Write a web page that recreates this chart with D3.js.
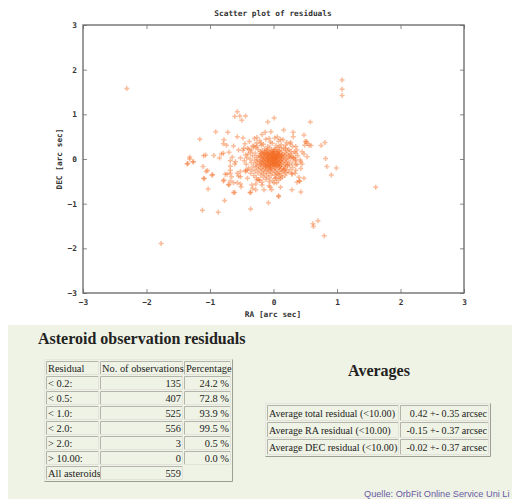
<!DOCTYPE html>
<html>
<head>
<meta charset="utf-8">
<script src="https://cdn.jsdelivr.net/npm/d3@7"></script>
<style>
body { margin: 0; background: #fff; }
svg { display: block; }
</style>
</head>
<body>
<svg id="chart" width="512" height="499"></svg>
<script>
// residuals, [RA, DEC] in arc sec
var outlierPoints = [
  [-2.31,1.58],
  [-0.57,1.06],[-0.61,0.95],[-0.53,0.96],[-0.50,0.87],[-0.44,0.96],
  [-0.91,0.61],[-0.72,0.60],[-1.16,0.44],[-0.78,0.43],[-0.57,0.50],[-0.48,0.47],
  [1.08,1.77],[1.08,1.56],[1.08,1.42],
  [0.01,0.92],[-0.09,0.83],[0.58,0.83],[0.16,0.65],[0.31,0.60],[-0.04,0.61],[0.81,0.37],[0.75,0.30],
  [0.48,0.54],[0.82,0.01],[0.31,0.50],[0.52,0.39],[0.59,0.30],
  [0.84,-0.17],[0.99,-0.20],[0.91,-0.36],[1.61,-0.63],[0.62,-1.45],[0.63,-1.51],[0.70,-1.38],[0.80,-1.72],
  [-0.08,-0.98],[0.08,-0.83],[0.08,-0.84],[0.29,-0.69],[0.43,-0.74],[0.41,-0.49],[0.41,-0.50],[0.48,-0.43],
  [0.37,-0.52],[0.43,-0.21],[0.45,-0.11],[0.29,-0.34],[0.11,-0.43],[0.11,-0.63],[0.01,-0.54],
  [-0.07,-0.60],[-0.15,-0.69],[-0.05,-0.63],
  [-1.77,-1.89],[-1.12,-1.15],[-0.87,-1.19],[-0.77,-0.93],[-0.36,-1.12],
  [-1.36,-0.11],[-1.35,-0.10],[-1.32,0.00],[-1.26,-0.06],[-1.10,0.07],[-1.11,-0.17],[-1.04,-0.26],
  [-1.09,-0.44],[-0.96,-0.35],[-1.03,-0.67],[-0.94,0.08],[-0.82,0.11],[-0.68,-0.04],[-0.79,-0.49],
  [-0.71,-0.57],[-0.63,-0.75],[-0.57,-0.53],[-0.51,-0.62],[-0.36,-0.75],[-0.33,-0.66],[-0.68,-0.25],
  [-0.73,-0.34],[-0.66,-0.40],[-0.52,-0.40],[-0.41,-0.25],[-0.57,-0.32],
  [-0.79,0.34],[-0.74,0.31],[-0.63,0.29],[-1.07,0.09],[-0.85,0.02],[-0.79,0.13],[-0.70,0.15],
  [-0.55,0.20],[-0.47,0.24],[-0.39,0.22],[-0.35,0.20],[-0.31,0.28],[-0.26,0.29],[-0.20,0.36],
  [-0.65,0.04],[-0.60,-0.06],[-0.52,0.02],[-0.44,0.09],[-1.32,0.04],[-1.27,-0.06],
  [-0.13,0.60],[-0.18,0.55],[0.06,0.49],[0.11,0.44],[-0.07,0.46],[-0.26,0.48],[0.27,0.37],[0.50,0.39],
  [0.56,0.31],[0.49,0.31],[0.19,0.24],[0.35,0.28],[0.37,0.20],[0.45,0.16],[0.48,0.11],[0.24,0.09],
  [0.29,0.04],[0.35,-0.01],[0.53,0.05],
  [-1.06,-0.28],[-1.10,-0.43],[-0.97,-0.36],[-0.76,-0.34],[-0.78,-0.47],[-0.68,-0.32],[-0.68,-0.49],
  [-0.70,-0.58],[-0.63,-0.53],[-0.61,-0.75],[-0.52,-0.56],[-0.55,-0.38],[-0.37,-0.75],[-0.34,-0.58],
  [-0.28,-0.69],[-0.26,-0.47],[-0.52,-0.28],[-0.41,-0.43],[-0.44,-0.25],[-0.68,-0.16],[-0.61,-0.11],
  [0.29,-0.32],[0.40,-0.41],[0.18,-0.23],[0.22,-0.13],[0.35,-0.13],[0.34,-0.32],[-0.03,-0.69],
  [-0.28,-0.56],[-0.23,-0.47],[-0.18,-0.58],[0.08,-0.34],[0.03,-0.43],
  [0.53,0.35],[0.35,0.13],[0.32,0.02],[0.43,-0.06],[0.35,-0.25]
];

// the dense core around the origin, estimated
var corePoints = [
  [-0.30,0.46],[-0.12,0.44],[0.02,0.47],[0.15,0.43],
  [-0.38,0.39],[-0.22,0.41],[-0.05,0.38],[0.08,0.40],[0.21,0.37],
  [-0.45,0.34],[-0.27,0.36],[-0.16,0.33],[-0.02,0.35],[0.12,0.32],[0.26,0.34],
  [-0.33,0.29],[-0.19,0.31],[-0.09,0.28],[0.04,0.30],[0.10,0.27],[0.19,0.31],[0.30,0.28],
  [-0.41,0.24],[-0.28,0.26],[-0.14,0.23],[-0.06,0.25],[0.01,0.22],[0.07,0.26],[0.16,0.24],[0.24,0.21],
  [-0.48,0.19],[-0.24,0.21],[-0.18,0.18],[-0.11,0.20],[-0.03,0.19],[0.03,0.21],[0.09,0.18],[0.13,0.20],
  [0.22,0.19],[0.28,0.17],
  [-0.36,0.15],[-0.21,0.16],[-0.15,0.14],[-0.08,0.17],[-0.01,0.15],[0.05,0.16],[0.11,0.14],[0.18,0.15],
  [0.33,0.16],
  [-0.40,0.11],[-0.29,0.13],[-0.19,0.11],[-0.13,0.12],[-0.07,0.10],[-0.02,0.13],[0.02,0.11],[0.07,0.12],
  [0.14,0.10],[0.20,0.12],[0.27,0.11],
  [-0.33,0.07],[-0.23,0.08],[-0.16,0.06],[-0.10,0.09],[-0.05,0.07],[0.00,0.08],[0.04,0.06],[0.09,0.09],
  [0.12,0.07],[0.17,0.08],[0.25,0.06],[0.38,0.07],
  [-0.42,0.03],[-0.27,0.04],[-0.20,0.05],[-0.14,0.03],[-0.09,0.04],[-0.04,0.02],[-0.01,0.05],[0.03,0.03],
  [0.06,0.04],[0.10,0.02],[0.15,0.05],[0.21,0.03],[0.31,0.04],
  [-0.37,0.00],[-0.25,-0.01],[-0.18,0.01],[-0.12,0.00],[-0.08,-0.01],[-0.03,0.01],[0.01,-0.01],[0.05,0.00],
  [0.08,0.01],[0.13,-0.01],[0.19,0.00],[0.26,0.01],[0.42,-0.02],
  [-0.46,-0.04],[-0.30,-0.03],[-0.22,-0.05],[-0.15,-0.04],[-0.10,-0.03],[-0.06,-0.05],[-0.02,-0.04],
  [0.02,-0.03],[0.06,-0.05],[0.11,-0.04],[0.16,-0.03],[0.23,-0.05],[0.34,-0.04],
  [-0.35,-0.08],[-0.26,-0.07],[-0.19,-0.09],[-0.13,-0.08],[-0.07,-0.07],[-0.03,-0.09],[0.00,-0.08],
  [0.04,-0.07],[0.09,-0.09],[0.14,-0.08],[0.20,-0.07],[0.29,-0.09],
  [-0.43,-0.12],[-0.28,-0.11],[-0.21,-0.13],[-0.16,-0.12],[-0.11,-0.11],[-0.05,-0.13],[-0.01,-0.12],
  [0.03,-0.11],[0.07,-0.13],[0.12,-0.12],[0.18,-0.11],[0.25,-0.13],[0.37,-0.12],
  [-0.32,-0.16],[-0.24,-0.15],[-0.17,-0.17],[-0.12,-0.16],[-0.08,-0.15],[-0.03,-0.17],[0.01,-0.16],
  [0.06,-0.15],[0.10,-0.17],[0.16,-0.16],[0.22,-0.15],
  [-0.39,-0.20],[-0.27,-0.19],[-0.20,-0.21],[-0.14,-0.20],[-0.09,-0.19],[-0.04,-0.21],[0.02,-0.20],
  [0.08,-0.19],[0.13,-0.21],[0.19,-0.20],[0.30,-0.19],
  [-0.34,-0.24],[-0.23,-0.23],[-0.16,-0.25],[-0.10,-0.24],[-0.05,-0.23],[0.00,-0.25],[0.05,-0.24],
  [0.11,-0.23],[0.17,-0.25],[0.26,-0.24],
  [-0.44,-0.28],[-0.29,-0.27],[-0.19,-0.29],[-0.12,-0.28],[-0.06,-0.27],[0.03,-0.29],[0.09,-0.28],
  [0.15,-0.27],[0.23,-0.29],
  [-0.36,-0.32],[-0.25,-0.31],[-0.15,-0.33],[-0.08,-0.32],[-0.02,-0.31],[0.06,-0.33],[0.13,-0.32],[0.20,-0.31],
  [-0.31,-0.37],[-0.20,-0.36],[-0.11,-0.38],[-0.04,-0.37],[0.02,-0.36],[0.10,-0.38],[0.18,-0.37],
  [-0.27,-0.42],[-0.16,-0.41],[-0.07,-0.43],[0.04,-0.42],[0.14,-0.41],
  [-0.22,-0.47],[-0.12,-0.46],[-0.01,-0.48],[0.08,-0.47],
  [-0.18,-0.52],[-0.06,-0.51],[0.05,-0.53],
  [-0.21,0.07],[-0.17,-0.02],[-0.13,0.15],[-0.11,0.05],[-0.09,-0.09],[-0.07,0.10],[-0.06,-0.14],[-0.04,0.03],
  [-0.02,-0.05],[0.00,0.13],[0.02,-0.10],[0.04,0.06],[0.06,-0.02],[0.08,0.17],[0.10,-0.15],[0.12,0.02],
  [-0.19,-0.11],[-0.15,0.11],[-0.12,-0.17],[-0.10,0.19],[-0.08,0.01],[-0.05,-0.19],[-0.03,0.16],[-0.01,0.00],
  [0.01,0.09],[0.03,-0.16],[0.05,0.12],[0.07,-0.07],[0.09,0.05],[0.11,-0.04],[-0.16,0.03],[-0.14,-0.06],
  [-0.10,-0.02],[-0.06,0.06],[-0.04,-0.08],[-0.02,0.11],[0.00,-0.13],[0.02,0.04],[0.04,-0.01],[0.06,0.08],
  [-0.18,0.14],[-0.13,-0.13],[-0.09,0.12],[-0.07,-0.04],[-0.03,0.07],[-0.01,-0.11],[0.01,0.18],[0.03,0.01],
  [0.05,-0.12],[0.08,0.10],[-0.20,-0.05],[-0.11,0.09],[-0.08,-0.12],[-0.05,0.14],[-0.02,-0.02],[0.00,0.05],
  [0.03,-0.07],[0.06,0.15],[0.09,-0.10],[0.13,0.08]
];

var tickValues = [-3, -2, -1, 0, 1, 2, 3];

var tableHeader = ["Residual", "No. of observations", "Percentage"];
var residualLabels = ["< 0.2:", "< 0.5:", "< 1.0:", "< 2.0:", "> 2.0:", "> 10.00:", "All asteroids"];
var obsCounts = [135, 407, 525, 556, 3, 0, 559];
var percentages = ["24.2 %", "72.8 %", "93.9 %", "99.5 %", "0.5 %", "0.0 %", null];

var averageLabels = ["Average total residual (<10.00)", "Average RA residual (<10.00)", "Average DEC residual (<10.00)"];
var averageValues = ["0.42 +- 0.35 arcsec", "-0.15 +- 0.37 arcsec", "-0.02 +- 0.37 arcsec"];

var svg = d3.select("#chart");
var monoFont = "'DejaVu Sans Mono', monospace";
var serifFont = "'Liberation Serif', 'Times New Roman', serif";

// ---------- scatter plot ----------
var plot = {left: 83, right: 464, top: 25, bottom: 293};

var x = d3.scaleLinear().domain([-3, 3]).range([plot.left, plot.right]);
var y = d3.scaleLinear().domain([-3, 3]).range([plot.bottom, plot.top]);
var intFormat = d3.format("d");

function styleAxis(g) {
    g.select(".domain").remove();
    g.selectAll(".tick line").attr("stroke", "#8a8a8a").attr("stroke-width", 1);
    g.selectAll(".tick text")
        .attr("fill", "#333")
        .style("font-family", monoFont)
        .style("font-weight", "bold")
        .style("font-size", "7.8px");
}

svg.append("g")
    .attr("transform", "translate(0," + plot.bottom + ")")
    .call(d3.axisBottom(x).tickValues(tickValues).tickFormat(intFormat).tickSize(-4).tickSizeOuter(0).tickPadding(6))
    .call(styleAxis);
svg.append("g")
    .attr("transform", "translate(0," + plot.top + ")")
    .call(d3.axisTop(x).tickValues(tickValues).tickSize(-4).tickSizeOuter(0).tickFormat(""))
    .call(styleAxis);
svg.append("g")
    .attr("transform", "translate(" + plot.left + ",0)")
    .call(d3.axisLeft(y).tickValues(tickValues).tickFormat(intFormat).tickSize(-4).tickSizeOuter(0).tickPadding(6))
    .call(styleAxis);
svg.append("g")
    .attr("transform", "translate(" + plot.right + ",0)")
    .call(d3.axisRight(y).tickValues(tickValues).tickSize(-4).tickSizeOuter(0).tickFormat(""))
    .call(styleAxis);

// frame
svg.append("rect")
    .attr("x", plot.left).attr("y", plot.top)
    .attr("width", plot.right - plot.left).attr("height", plot.bottom - plot.top)
    .attr("fill", "none").attr("stroke", "#666").attr("stroke-width", 1.3);

// the points, as plus signs
var allPoints = outlierPoints.concat(corePoints);
svg.append("g").selectAll("path")
    .data(allPoints)
    .join("path")
    .attr("transform", d => "translate(" + x(d[0]) + "," + y(d[1]) + ")")
    .attr("d", "M-2.5,0H2.5M0,-2.5V2.5")
    .attr("stroke", "#f46a22")
    .attr("stroke-opacity", 0.45)
    .attr("stroke-width", 1.5)
    .attr("fill", "none");

// titles
svg.append("text")
    .attr("x", 273).attr("y", 15.5)
    .attr("text-anchor", "middle")
    .style("font-family", monoFont).style("font-weight", "bold").style("font-size", "7.8px")
    .attr("fill", "#333")
    .text("Scatter plot of residuals");
svg.append("text")
    .attr("x", 273).attr("y", 316.5)
    .attr("text-anchor", "middle")
    .style("font-family", monoFont).style("font-weight", "bold").style("font-size", "7.8px")
    .attr("fill", "#333")
    .text("RA [arc sec]");
svg.append("text")
    .attr("transform", "translate(62,159) rotate(-90)")
    .attr("text-anchor", "middle")
    .style("font-family", monoFont).style("font-weight", "bold").style("font-size", "7.8px")
    .attr("fill", "#333")
    .text("DEC [arc sec]");

// ---------- statistics panel ----------
svg.append("rect")
    .attr("x", 8).attr("y", 325).attr("width", 504).attr("height", 174)
    .attr("fill", "#eff3e5");

svg.append("text")
    .attr("x", 38).attr("y", 343.5)
    .style("font-family", serifFont).style("font-weight", "bold").style("font-size", "16px")
    .attr("fill", "#222")
    .text("Asteroid observation residuals");

svg.append("text")
    .attr("x", 379).attr("y", 375.5)
    .attr("text-anchor", "middle")
    .style("font-family", serifFont).style("font-weight", "bold").style("font-size", "16px")
    .attr("fill", "#222")
    .text("Averages");

// html-like table with bevelled borders
function drawTable(g, left, top, colWidths, rowH, rows, fontSize) {
    var sp = 2;
    var totalW = d3.sum(colWidths) + sp * (colWidths.length + 1);
    var totalH = rows.length * (rowH + sp) + sp;
    // outer border: light top/left, dark bottom/right
    g.append("path")
        .attr("d", "M" + left + "," + (top + totalH) + "V" + top + "H" + (left + totalW))
        .attr("fill", "none").attr("stroke", "#e6e6de");
    g.append("path")
        .attr("d", "M" + (left + totalW) + "," + top + "V" + (top + totalH) + "H" + left)
        .attr("fill", "none").attr("stroke", "#9d9d96");

    rows.forEach(function(row, ri) {
        var cy = top + sp + ri * (rowH + sp);
        var cx = left + sp;
        row.forEach(function(cell, ci) {
            var w = colWidths[ci];
            if (cell != null) {
                g.append("path")
                    .attr("d", "M" + cx + "," + (cy + rowH) + "V" + cy + "H" + (cx + w))
                    .attr("fill", "none").attr("stroke", "#b4b4ac");
                g.append("path")
                    .attr("d", "M" + (cx + w) + "," + cy + "V" + (cy + rowH) + "H" + cx)
                    .attr("fill", "none").attr("stroke", "#e2e2da");
                var right = cell.align === "right";
                g.append("text")
                    .attr("x", right ? cx + w - 1.5 : cx + 1.5)
                    .attr("y", cy + rowH / 2 + 3.6)
                    .attr("text-anchor", right ? "end" : "start")
                    .style("font-family", serifFont).style("font-size", fontSize + "px")
                    .attr("fill", "#222")
                    .text(cell.text);
            }
            cx += w + sp;
        });
    });
}

var residualRows = [tableHeader.map(t => ({text: t, align: "left"}))];
residualLabels.forEach(function(lbl, i) {
    residualRows.push([
        {text: lbl, align: "left"},
        {text: String(obsCounts[i]), align: "right"},
        percentages[i] == null ? null : {text: percentages[i], align: "right"}
    ]);
});
drawTable(svg.append("g"), 44.5, 359.5, [52, 82, 46], 13, residualRows, 10.4);

var averageRows = averageLabels.map(function(lbl, i) {
    return [{text: lbl, align: "left"}, {text: averageValues[i], align: "right"}];
});
drawTable(svg.append("g"), 265.5, 403.5, [131, 88], 15, averageRows, 10.1);

svg.append("text")
    .attr("x", 364).attr("y", 497)
    .style("font-family", "'Liberation Sans', Arial, sans-serif").style("font-size", "9.2px")
    .attr("fill", "#6a5aa6")
    .text("Quelle: OrbFit Online Service Uni Li");
</script>
</body>
</html>
